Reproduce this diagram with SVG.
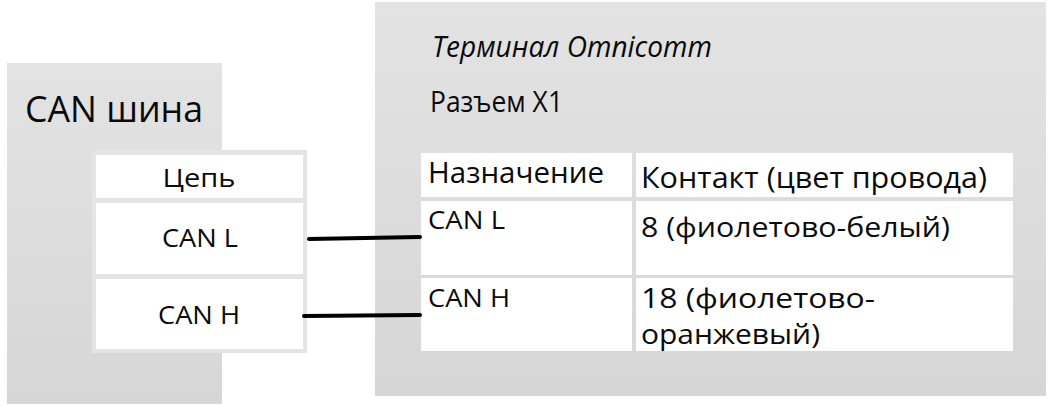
<svg xmlns="http://www.w3.org/2000/svg" width="1049" height="406" viewBox="0 0 1049 406">
<defs>
<linearGradient id="panelGrad" x1="0" y1="0" x2="0" y2="1">
<stop offset="0" stop-color="#e3e3e3"/>
<stop offset="1" stop-color="#d6d6d6"/>
</linearGradient>
</defs>
<style>
.panel{fill:url(#panelGrad)}
.cell{fill:#ffffff}
.border{fill:#e4e4e4}
.t{font-family:"Open Sans","Noto Sans","DejaVu Sans",sans-serif;fill:#0a0a0a}
.wire{stroke:#000000;stroke-width:4;stroke-linecap:round;fill:none}
</style>
<rect width="1049" height="406" fill="#ffffff"/>
<g id="can-bus">
<rect class="panel" x="7" y="63" width="215" height="341"/>
<text class="t" x="25" y="122" font-size="36" textLength="178" lengthAdjust="spacingAndGlyphs">CAN шина</text>
<rect class="border" x="92" y="150" width="215" height="203"/>
<rect class="cell" x="96" y="155" width="207" height="43"/>
<rect class="cell" x="96" y="203" width="207" height="71"/>
<rect class="cell" x="96" y="279" width="207" height="70"/>
<text class="t" x="199" y="187" font-size="26" text-anchor="middle" textLength="73" lengthAdjust="spacingAndGlyphs">Цепь</text>
<text class="t" x="200" y="247" font-size="26" text-anchor="middle" textLength="76" lengthAdjust="spacingAndGlyphs">CAN L</text>
<text class="t" x="199" y="324" font-size="26" text-anchor="middle" textLength="82" lengthAdjust="spacingAndGlyphs">CAN H</text>
</g>
<g id="terminal">
<rect class="panel" x="375" y="2" width="671" height="394"/>
<text class="t" x="432" y="57" font-size="30" font-style="italic" textLength="280" lengthAdjust="spacingAndGlyphs">Терминал Omnicomm</text>
<text class="t" x="430" y="112" font-size="29" textLength="133" lengthAdjust="spacingAndGlyphs">Разъем X1</text>
<rect class="cell" x="421" y="153" width="211" height="44"/>
<rect class="cell" x="636" y="153" width="377" height="44"/>
<rect class="cell" x="421" y="201" width="211" height="74"/>
<rect class="cell" x="636" y="201" width="377" height="74"/>
<rect class="cell" x="421" y="278" width="211" height="73"/>
<rect class="cell" x="636" y="278" width="377" height="73"/>
<text class="t" x="428" y="183" font-size="30" textLength="176" lengthAdjust="spacingAndGlyphs">Назначение</text>
<text class="t" x="641" y="188" font-size="30" textLength="346" lengthAdjust="spacingAndGlyphs">Контакт (цвет провода)</text>
<text class="t" x="428" y="229" font-size="26" textLength="77" lengthAdjust="spacingAndGlyphs">CAN L</text>
<text class="t" x="641" y="237" font-size="28" textLength="309" lengthAdjust="spacingAndGlyphs">8 (фиолетово-белый)</text>
<text class="t" x="428" y="307" font-size="26" textLength="82" lengthAdjust="spacingAndGlyphs">CAN H</text>
<text class="t" x="641" y="308" font-size="27" textLength="234" lengthAdjust="spacingAndGlyphs">18 (фиолетово-</text>
<text class="t" x="641" y="344" font-size="27" textLength="179" lengthAdjust="spacingAndGlyphs">оранжевый)</text>
</g>
<g id="connectors">
<line class="wire" x1="309" y1="239" x2="420" y2="237"/>
<line class="wire" x1="304" y1="316" x2="420" y2="315"/>
</g>
</svg>
